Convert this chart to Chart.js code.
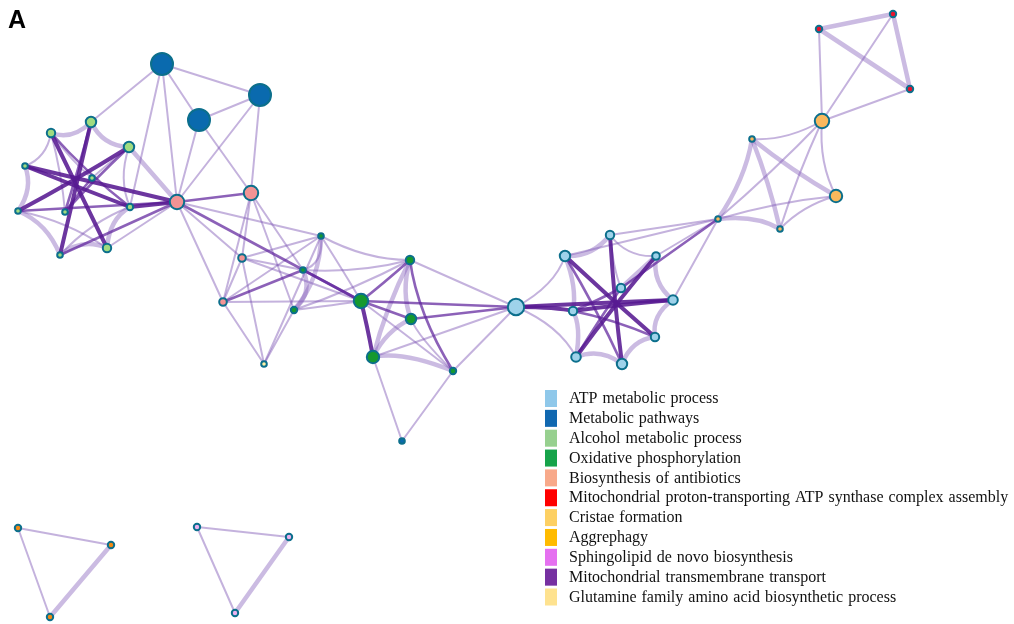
<!DOCTYPE html>
<html>
<head>
<meta charset="utf-8">
<title>Enrichment network</title>
<script src="https://cdn.jsdelivr.net/npm/chart.js@4.4.0/dist/chart.umd.min.js"></script>
<style>
  html, body { margin: 0; padding: 0; background: #ffffff; }
  #wrap { width: 1014px; height: 624px; position: relative; }
</style>
</head>
<body>
<div id="wrap"><canvas id="net" width="1014" height="624"></canvas></div>
<script>
// Enriched term categories (legend order)
const categories = [
  'ATP metabolic process',
  'Metabolic pathways',
  'Alcohol metabolic process',
  'Oxidative phosphorylation',
  'Biosynthesis of antibiotics',
  'Mitochondrial proton-transporting ATP synthase complex assembly',
  'Cristae formation',
  'Aggrephagy',
  'Sphingolipid de novo biosynthesis',
  'Mitochondrial transmembrane transport',
  'Glutamine family amino acid biosynthetic process'
];

// Term nodes: id, layout coordinates, term size, category index
const nodeIds = ['M1','M2','M3','M4',
  'L1','L2','L3','L4','L5','L6','L7','L8','L9','L10',
  'B1','B2','B3','B4','Q1',
  'O1','O2','O3','O4','O5','O6','O7','O8',
  'A1','A2','A3','A4','A5','A6','A7','A8','A9','A10',
  'C1','C2','C3','C4','C5',
  'R1','R2','R3',
  'G1','G2','G3',
  'S1','S2','S3'];
const nodeX = [162,260,199,402,
  51,91,129,25,92,18,65,130,107,60,
  177,251,242,223,264,
  321,303,294,410,361,411,373,453,
  516,565,610,656,621,573,673,655,576,622,
  822,836,752,718,780,
  819,893,910,
  18,111,50,
  197,289,235];
const nodeY = [64,95,120,441,
  133,122,147,166,178,211,212,207,248,255,
  202,193,258,302,364,
  236,270,310,260,301,319,357,371,
  307,256,235,256,288,311,300,337,357,364,
  121,196,139,219,229,
  29,14,89,
  528,545,617,
  527,537,613];
const termSize = [11,11,11,2.8,
  4.2,5.2,5.2,2.8,2.8,2.8,2.8,3.2,4.2,2.8,
  7.2,7.2,3.8,3.8,2.8,
  2.8,2.8,3.2,4.2,7.2,5.2,6.2,3.2,
  8.2,5.2,4.2,3.8,4.2,4.2,4.8,4.2,4.8,5.2,
  7.2,6.2,2.8,2.8,2.8,
  3.2,3.2,3.2,
  3.2,3.2,3.2,
  3.2,3.2,3.2];
const nodeCategory = [1,1,1,1,
  2,2,2,2,2,2,2,2,2,2,
  4,4,4,4,10,
  3,3,3,3,3,3,3,3,
  0,0,0,0,0,0,0,0,0,0,
  6,6,6,6,6,
  5,5,5,
  7,7,7,
  8,8,8];

// Similarity links: source, target, strength (1 weak .. 4 strong)
const links = [
  ['M1','M2',1],['M1','M3',1],['M2','M3',1],['M1','B1',1],['M1','L8',1],['M1','L2',1],
  ['M3','B1',1],['M2','B1',1],['M3','B2',1],['M2','B2',1],
  ['L1','L2',2],['L2','L3',2],['L1','L4',1],['L4','L6',2],['L6','L10',2],['L10','L9',2],
  ['L9','L8',2],['L8','L3',1],['L1','L5',1],['L3','L5',1],['L9','B1',1],['L3','B1',2],
  ['L6','L9',1],['L1','L7',1],['L10','L8',1],
  ['L1','L9',4],['L2','L10',4],['L3','L6',4],['L4','L8',4],['L4','B1',4],['L6','B1',3],
  ['L8','B1',4],['L10','B1',3],['L7','L3',3],['L5','L7',3],['L1','L8',3],['L2','L7',3],
  ['B1','B2',3],['B1','O5',3],['B1','B3',1],['B1','B4',1],['B1','O1',1],['B2','B3',1],
  ['B2','B4',1],['B2','O2',1],['B2','O3',1],['B3','O1',1],['B3','O2',1],['B3','O5',1],
  ['B3','Q1',1],['B4','O2',3],['B4','O1',1],['B4','Q1',1],['B4','O5',1],['B3','B4',1],
  ['O3','Q1',1],['O1','Q1',1],
  ['O1','O2',1],['O1','O3',2],['O2','O3',2],['O1','O5',1],['O2','O5',3],['O3','O5',1],
  ['O1','O4',1],['O2','O4',1],['O3','O4',1],['O4','O5',3],['O5','O6',3],['O5','O7',4],
  ['O5','O8',1],['O4','O6',2],['O4','O7',2],['O4','O8',3],['O6','O7',2],['O6','O8',1],
  ['O7','O8',2],['O6','A1',3],['O4','A1',1],['O5','A1',3],['O8','A1',1],['O7','M4',1],
  ['O8','M4',1],['O7','A1',1],
  ['A2','A3',2],['A3','A4',1],['A4','A7',2],['A7','A8',2],['A8','A10',2],['A10','A9',2],
  ['A9','A6',2],['A6','A2',2],['A1','A2',1],['A1','A9',1],['A3','A5',1],['A4','A5',2],
  ['A1','A7',4],['A6','A7',4],['A2','A8',4],['A3','A10',4],['A4','A9',4],['A5','A9',3],
  ['A2','A10',3],['A6','A8',3],['A5','A6',3],['A1','A6',4],
  ['A3','C4',1],['A4','C4',1],['A7','C4',1],['A5','C4',3],['A2','C4',1],
  ['C4','C3',2],['C4','C5',2],['C4','C2',1],['C4','C1',1],['C3','C1',1],['C3','C5',2],
  ['C3','C2',2],['C1','C2',1],['C5','C2',1],['C5','C1',1],
  ['C1','R1',1],['C1','R2',1],['C1','R3',1],['R1','R2',2],['R1','R3',2],['R2','R3',2],
  ['G1','G2',1],['G1','G3',1],['G2','G3',2],
  ['S1','S2',1],['S1','S3',1],['S2','S3',2]
];

// Styling
const nodeFill = ['#9ed2ea','#0a6aae','#a0db80','#15992f','#f39394','#e8122e',
                  '#f9b85c','#f28a14','#ecb2ef','#7a2ea0','#fff3a6'];
const swatchFill = ['#8fc8ea','#1168b0','#97d08f','#17a34a','#f8a98a','#ff0000',
                    '#fdd063','#ffbb00','#e570f0','#7630a1','#fee28f'];
const nodeBorder = '#0c6f8c';
const bundledCategories = [0, 2, 3, 6];
const linkStyle = {
  1: { color: 'rgba(124, 84, 180, 0.45)', width: 2 },
  2: { color: 'rgba(132, 94, 186, 0.42)', width: 4.5 },
  3: { color: 'rgba(96, 36, 156, 0.72)', width: 2.6 },
  4: { color: 'rgba(88, 26, 146, 0.88)', width: 4 }
};

const idx = {};
nodeIds.forEach((id, i) => { idx[id] = i; });

// Centroid of each category, used to bundle links inside a cluster
const centroid = categories.map((_, c) => {
  let sx = 0, sy = 0, n = 0;
  nodeCategory.forEach((cc, i) => { if (cc === c) { sx += nodeX[i]; sy += nodeY[i]; n++; } });
  return n ? { x: sx / n, y: sy / n, n } : null;
});

const datasets = categories.map((name, c) => {
  const data = [];
  nodeIds.forEach((id, i) => {
    if (nodeCategory[i] === c) data.push({ x: nodeX[i], y: nodeY[i], r: termSize[i] });
  });
  return {
    label: name,
    data,
    backgroundColor: nodeFill[c],
    borderColor: nodeBorder,
    borderWidth: 2,
    hoverRadius: 0,
    hoverBorderWidth: 2
  };
});

const linkPlugin = {
  id: 'links',
  beforeDatasetsDraw(chart) {
    const { ctx, scales: { x, y } } = chart;
    ctx.save();
    ctx.lineCap = 'round';
    const ordered = links.slice().sort((a, b) => a[2] - b[2]);
    ordered.forEach(([s, t, w]) => {
      const i = idx[s], j = idx[t];
      const x1 = x.getPixelForValue(nodeX[i]), y1 = y.getPixelForValue(nodeY[i]);
      const x2 = x.getPixelForValue(nodeX[j]), y2 = y.getPixelForValue(nodeY[j]);
      let cx = (x1 + x2) / 2, cy = (y1 + y2) / 2;
      const ci = nodeCategory[i], cj = nodeCategory[j];
      if (ci === cj && bundledCategories.includes(ci)) {
        const hx = x.getPixelForValue(centroid[ci].x), hy = y.getPixelForValue(centroid[ci].y);
        cx += (hx - cx) * 0.22;
        cy += (hy - cy) * 0.22;
      }
      const st = linkStyle[w];
      ctx.strokeStyle = st.color;
      ctx.lineWidth = st.width;
      ctx.beginPath();
      ctx.moveTo(x1, y1);
      ctx.quadraticCurveTo(cx, cy, x2, y2);
      ctx.stroke();
    });
    ctx.restore();
  }
};

const legendPlugin = {
  id: 'termLegend',
  afterDraw(chart) {
    const ctx = chart.ctx;
    ctx.save();
    const left = 545, top = 390, step = 19.85;
    ctx.font = '16px "Liberation Serif", "Times New Roman", serif';
    if ('wordSpacing' in ctx) ctx.wordSpacing = '1px';
    ctx.textBaseline = 'middle';
    categories.forEach((name, c) => {
      const yy = top + c * step;
      ctx.fillStyle = swatchFill[c];
      ctx.fillRect(left, yy, 12, 17);
      ctx.fillStyle = '#111111';
      ctx.fillText(name, left + 24, yy + 9);
    });
    // panel letter
    ctx.font = 'bold 25px "Liberation Sans", Arial, sans-serif';
    ctx.textBaseline = 'alphabetic';
    ctx.fillStyle = '#000000';
    ctx.fillText('A', 8, 28);
    ctx.restore();
  }
};

new Chart(document.getElementById('net'), {
  type: 'bubble',
  data: { datasets },
  options: {
    responsive: false,
    animation: false,
    layout: { padding: 0, autoPadding: false },
    events: [],
    plugins: { legend: { display: false }, tooltip: { enabled: false } },
    scales: {
      x: { type: 'linear', min: 0, max: 1014, display: false },
      y: { type: 'linear', min: 0, max: 624, reverse: true, display: false }
    }
  },
  plugins: [linkPlugin, legendPlugin]
});
</script>
</body>
</html>
